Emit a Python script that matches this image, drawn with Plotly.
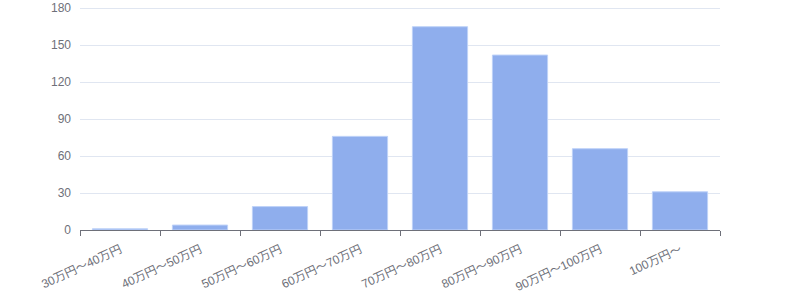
import plotly.graph_objects as go

categories = ["30万円～40万円", "40万円～50万円", "50万円～60万円", "60万円～70万円",
              "70万円～80万円", "80万円～90万円", "90万円～100万円", "100万円～"]
values = [1, 4, 19, 76, 165, 142, 66, 31]
y_ticks = [0, 30, 60, 90, 120, 150, 180]

fig = go.Figure(go.Bar(
    x=categories, y=values,
    marker=dict(color="rgb(143,174,237)", line=dict(color="rgba(190,210,248,1)", width=1)),
    width=0.69,
))

font_family = "Liberation Sans, Noto Sans CJK JP, sans-serif"
fig.update_layout(
    width=800, height=300,
    margin=dict(l=80, r=80, t=7, b=70, autoexpand=False),
    paper_bgcolor="white", plot_bgcolor="white",
    showlegend=False,
    font=dict(family=font_family, size=12, color="#6E7079"),
    bargap=0.31,
)
fig.update_xaxes(
    showline=True, linecolor="#6E7079", linewidth=1,
    ticks="outside", tickson="boundaries", ticklen=5, tickcolor="#6E7079",
    tickangle=-25, showgrid=False, automargin=False,
    ticklabelstandoff=7,
    tickfont=dict(family=font_family, size=12, color="#6E7079"),
)
fig.update_yaxes(
    range=[0, 181], tickvals=y_ticks, showline=False,
    gridcolor="#E0E6F1", gridwidth=1, zeroline=False,
    ticks="", ticklabelstandoff=8, automargin=False,
    ticklabeloverflow="allow",
    tickfont=dict(family=font_family, size=12, color="#6E7079"),
)

fig.write_html("out.html")
